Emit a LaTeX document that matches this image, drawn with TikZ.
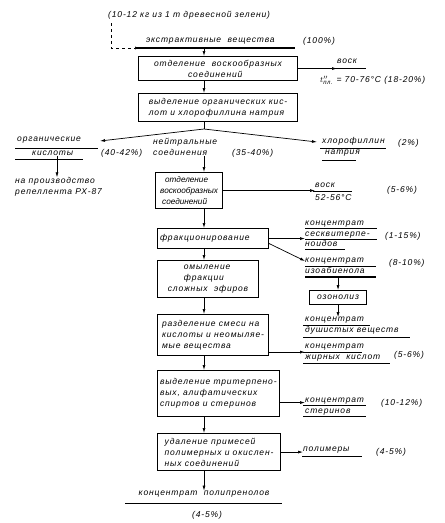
\documentclass[tikz,border=0pt]{standalone}
\usepackage{fontspec}
\setmainfont{Liberation Sans}[LetterSpace=10]
\newfontfamily\narrowfont{Liberation Sans}[LetterSpace=0]
\usetikzlibrary{arrows.meta}
\begin{document}
\begin{tikzpicture}[x=1pt,y=-1pt,
 txt/.style={inner sep=0pt,anchor=west,align=left,font=\fontsize{8.5}{11}\selectfont\itshape},
 box/.style={draw,line width=1.1pt,anchor=north west,inner sep=2.5pt,align=left,font=\fontsize{8.5}{11}\selectfont\itshape},
 flow/.style={line width=0.7pt,-{Latex[length=5pt,width=3pt]}},
 uline/.style={line width=0.8pt}]
\useasboundingbox (0,0) rectangle (445,523);
\node[txt] (src) at (108,15) {(10-12 кг из 1 т древесной зелени)};
\node[txt] (extr) at (146,41) {экстрактивные \ вещества};
\node[txt] (p100) at (303,41) {(100\%)};
\draw[uline,line width=1.2pt] (137,48) -- (295,48);
\coordinate (col) at (204,0);
\coordinate (extrin) at (140,48);
\draw[flow,dashed] ([xshift=3pt,yshift=-4pt]src.south west) |- (extrin);
\node[box,minimum width=159pt,minimum height=24pt] (sep1) at (138,56)
 {отделение \ воскообразных\\\hspace*{34pt}соединений};
\draw[flow] (col |- extrin) -- (sep1.north -| col);
\node[txt] (wax1) at (337,61) {воск};
\draw[uline] (335,68) -- (366,68);
\node[txt] (melt) at (320,80) {$t^{\prime\prime}_{\mbox{\fontsize{6}{6}\selectfont\itshape пл.}}$ = 70-76°C (18-20\%)};
\draw[flow] (sep1.east) -- (sep1.east -| wax1.west);
\node[box,minimum width=159pt,minimum height=28pt] (sel2) at (138,93)
 {выделение органических кис-\\лот и хлорофиллина натрия};
\draw[flow] (sep1.south -| col) -- (sel2.north -| col);
\coordinate (split) at (204,129);
\coordinate (acidin) at (100,141);
\coordinate (chlorin) at (317,142);
\draw[line width=0.7pt] (sel2.south -| col) -- (split);
\draw[flow] (split) -- (acidin);
\draw[flow] (split) -- (chlorin);
\node[txt] (acid1) at (17,140) {органические};
\draw[uline] (15,148) -- (98,148);
\node[txt] (acid2) at (32,153) {кислоты};
\draw[uline] (15,159) -- (83,159);
\node[txt] (p40) at (101,153) {(40-42\%)};
\node[txt] (neut) at (153,147) {нейтральные\\соединения};
\node[txt] (p35) at (232,153) {(35-40\%)};
\node[txt] (chlor1) at (322,141) {хлорофиллин};
\draw[uline] (320,148) -- (386,148);
\node[txt] (chlor2) at (325,153) {натрия};
\draw[uline] (322,160) -- (356,160);
\node[txt] (p2) at (398,143) {(2\%)};
\node[txt] (usage) at (15,187) {на производство\\репеллента РХ-87};
\draw[flow] (acid2.south -| 57,0) -- (usage.north -| 57,0);
\node[box,minimum width=67pt,minimum height=36pt,font=\fontsize{8.2}{11}\selectfont\narrowfont\itshape] (sep3) at (155,172)
 {\hspace*{5pt}отделение\\воскообразных\\\hspace*{2pt}соединений};
\draw[flow] (neut.south -| col) -- (sep3.north -| col);
\node[txt] (wax2) at (315,185) {воск};
\draw[uline] (313,191) -- (352,191);
\node[txt] (melt2) at (315,198) {52-56°C};
\node[txt] (p5a) at (387,190) {(5-6\%)};
\draw[flow] (sep3.east) -- (sep3.east -| wax2.west);
\node[box,minimum width=111pt,minimum height=20pt,text width=106pt] (frac) at (157,228) {фракционирование};
\draw[flow] (sep3.south -| col) -- (frac.north -| col);
\node[txt,font=\fontsize{8.5}{10.5}\selectfont\itshape] (sesq) at (305,234) {концентрат\\сесквитерпе-\\ноидов};
\draw[uline] (305,228) -- (377,228);
\draw[uline] (305,239) -- (377,239);
\draw[uline] (305,249) -- (345,249);
\node[txt] (p1) at (385,236) {(1-15\%)};
\draw[flow] (frac.east) -- (frac.east -| sesq.west);
\node[txt] (isoab) at (305,266) {концентрат\\изоабиенола};
\draw[uline] (305,266) -- (376,266);
\draw[uline,line width=1.1pt] (305,277) -- (376,277);
\node[txt] (p8) at (389,263) {(8-10\%)};
\draw[flow] ([yshift=-5pt]frac.east) -- ([yshift=5pt]isoab.west);
\node[box,minimum width=57pt,minimum height=14pt] (ozon) at (309,290) {озонолиз};
\draw[flow] (ozon.north |- 0,278) -- (ozon.north);
\node[txt] (arom) at (305,326) {концентрат\\душистых веществ};
\draw[uline] (303,325) -- (370,325);
\draw[uline] (303,337) -- (410,337);
\draw[flow] (ozon.south) -- (ozon.south |- arom.north);
\node[box,minimum width=101pt,minimum height=37pt] (sapon) at (157,260)
 {\hspace*{16pt}омыление\\\hspace*{16pt}фракции\\сложных \ эфиров};
\draw[flow] (frac.south -| col) -- (sapon.north -| col);
\node[box,minimum width=111pt,minimum height=41pt] (divide) at (157,314)
 {разделение смеси на\\кислоты и неомыляе-\\мые вещества};
\draw[flow] (sapon.south -| col) -- (divide.north -| col);
\node[txt] (fatty) at (305,353) {концентрат\\жирных \ кислот};
\draw[uline] (303,352) -- (362,352);
\draw[uline] (303,363) -- (390,363);
\node[txt] (p5b) at (394,355) {(5-6\%)};
\draw[flow] ([yshift=4pt]divide.south east) -- ([yshift=4pt]divide.south east -| fatty.west);
\node[box,minimum width=118pt,minimum height=46pt] (trit) at (157,370)
 {выделение тритерпено-\\вых, алифатических\\спиртов и стеринов};
\draw[flow] (divide.south -| col) -- (trit.north -| col);
\node[txt] (ster) at (305,407) {концентрат\\стеринов};
\draw[uline] (303,405) -- (366,405);
\draw[uline] (303,416) -- (366,416);
\node[txt] (p10) at (381,403) {(10-12\%)};
\draw[flow] ([yshift=-9pt]trit.east) -- ([yshift=-9pt]trit.east -| ster.west);
\node[box,minimum width=123pt,minimum height=37pt] (purif) at (157,433)
 {удаление примесей\\полимерных и окислен-\\ных соединений};
\draw[flow] (trit.south -| col) -- (purif.north -| col);
\node[txt] (polym) at (303,450) {полимеры};
\draw[uline] (302,456) -- (362,456);
\node[txt] (p4a) at (376,452) {(4-5\%)};
\draw[flow] (purif.east) -- (purif.east -| polym.west);
\node[txt,anchor=center] (prod) at (204,494) {концентрат \ полипренолов};
\draw[uline] (125,503) -- (282,503);
\node[txt,anchor=center] (p4b) at (207,515) {(4-5\%)};
\draw[flow] (purif.south -| col) -- (prod.north -| col);
\end{tikzpicture}
\end{document}
